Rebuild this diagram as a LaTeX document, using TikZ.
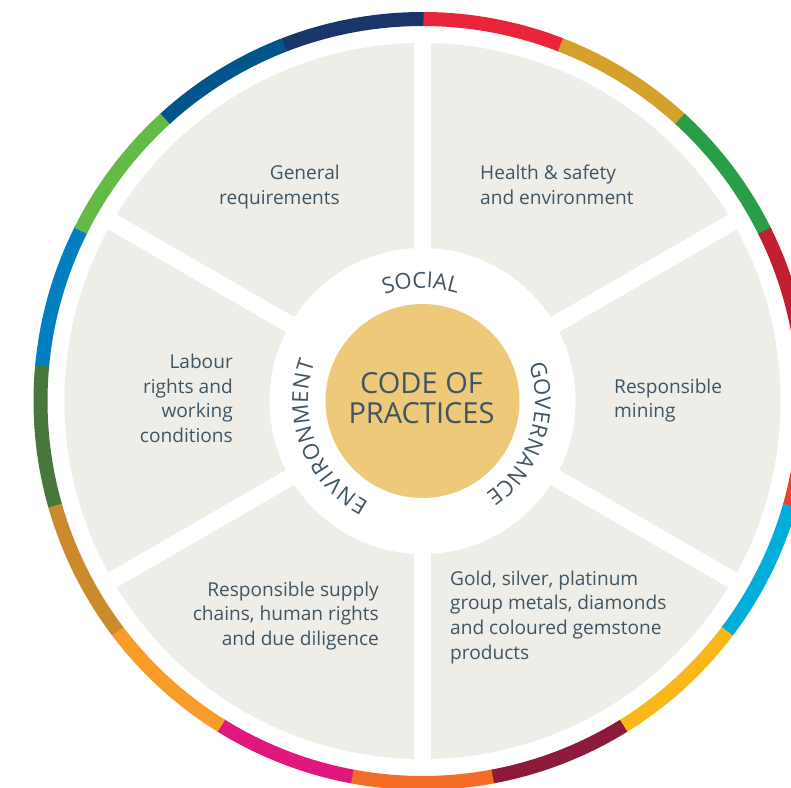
\documentclass[tikz,border=0pt]{standalone}
\usepackage{fontspec}
\setmainfont{Open Sans}
\newfontfamily\arcff{Open Sans}
\definecolor{txt}{HTML}{405563}
\definecolor{sect}{HTML}{EEEDE8}
\definecolor{core}{HTML}{EDC979}
\definecolor{g1}{HTML}{E9253B}
\definecolor{g2}{HTML}{D4A12C}
\definecolor{g3}{HTML}{2A9D49}
\definecolor{g4}{HTML}{C21E32}
\definecolor{g5}{HTML}{EF402B}
\definecolor{g6}{HTML}{00AED9}
\definecolor{g7}{HTML}{FAB719}
\definecolor{g8}{HTML}{8E1A3B}
\definecolor{g9}{HTML}{F26C25}
\definecolor{g10}{HTML}{E0187C}
\definecolor{g11}{HTML}{F89B28}
\definecolor{g12}{HTML}{CB8B2D}
\definecolor{g13}{HTML}{48773D}
\definecolor{g14}{HTML}{0080C1}
\definecolor{g15}{HTML}{63BB46}
\definecolor{g16}{HTML}{01558A}
\definecolor{g17}{HTML}{1A3569}
\newcommand\arcfont{\arcff\fontsize{22}{22}\selectfont}
% measure letter widths in the preamble
\newcommand\measureletter[1]{%
  \setbox0=\hbox{\arcfont #1}%
  \expandafter\xdef\csname lwid#1\endcsname{\the\wd0}}
\measureletter{S}\measureletter{O}\measureletter{C}\measureletter{I}
\measureletter{A}\measureletter{L}\measureletter{G}\measureletter{V}
\measureletter{E}\measureletter{R}\measureletter{N}\measureletter{M}
\measureletter{T}
\newdimen\arcw
\newcount\arcn
% #1 name, #2 start edge angle, #3 end edge angle, #4 baseline radius, #5 letter-centre radius, #6 letters
\newcommand\placearc[6]{%
  \global\arcw=0pt
  \global\arcn=0
  \foreach \ch in {#6}{%
    \global\advance\arcw by \csname lwid\ch\endcsname\relax
    \global\advance\arcn by 1\relax
  }%
  \edef\totw{\the\arcw}%
  \edef\totn{\the\arcn}%
  \pgfmathsetmacro\trk{((#2-(#3))*pi/180*#5 - \totw)/(\totn-1)}%
  \xdef\cura{#2}%
  \foreach \ch [count=\k] in {#6}{%
    \edef\w{\csname lwid\ch\endcsname}%
    \pgfmathsetmacro\ang{\cura - (\w/2)/#5*180/pi}%
    \node[arcletter, rotate=\ang-90] (#1\k) at (\ang:#4pt) {\ch};
    \pgfmathsetmacro\nx{\cura - (\w + \trk)/#5*180/pi}%
    \xdef\cura{\nx}%
  }%
}
\tikzset{
  arcletter/.style={anchor=base, inner sep=0pt, text=txt, font=\arcfont},
  lbl/.style={inner sep=0pt, text=txt, font=\fontsize{19.1}{24.7}\selectfont},
  ttl/.style={inner sep=0pt, text=txt, font=\fontsize{29}{30}\selectfont, align=center, anchor=base},
  divider/.style={white, line width=17pt}
}
\begin{document}
\begin{tikzpicture}[x=1pt,y=1pt]
\useasboundingbox (-422.5,-386) rectangle (368.5,401);
\fill[white] (-422.5,-386) rectangle (368.5,401);
% SDG ring
\foreach \c [count=\i from 0] in {g1,g2,g3,g4,g5,g6,g7,g8,g9,g10,g11,g12,g13,g14,g15,g16,g17}{
  \pgfmathsetmacro\aa{90-\i*360/17}
  \pgfmathsetmacro\ab{90-(\i+1)*360/17-0.15}
  \fill[\c] (\aa:389pt) arc[start angle=\aa, end angle=\ab, radius=389pt]
     -- (\ab:375pt) arc[start angle=\ab, end angle=\aa, radius=375pt] -- cycle;
}
% sectors
\fill[sect] (0,0) circle[radius=358pt];
\foreach \a in {90,30,-30,-90,-150,150}{
  \draw[divider] (0,0) -- (\a:366pt);
}
\fill[white] (0,0) circle[radius=153pt];
\node[circle, fill=core, minimum size=194pt, inner sep=0pt] (core) at (0,0) {};
\node[ttl] (title) at (-1,-22) {CODE OF\\PRACTICES};
% arc words
\placearc{soc}{109.3}{72.4}{113.1}{121}{S,O,C,I,A,L}
\placearc{gov}{18.8}{-55.7}{112.6}{120.5}{G,O,V,E,R,N,A,N,C,E}
\placearc{env}{241.9}{160.1}{114.6}{122.5}{E,N,V,I,R,O,N,M,E,N,T}
% labels (anchor at baseline of last line)
\node[lbl, align=right, anchor=base east] (gen) at (-82.5,196.3) {General\\requirements};
\node[lbl, align=left, anchor=base west] (hse) at (57.5,196.3) {Health \& safety\\and environment};
\node[lbl, align=left, anchor=base west] (mining) at (191.5,-16.7) {Responsible\\mining};
\node[lbl, align=right, anchor=base east] (labour) at (-189.5,-41.6) {Labour\\rights and\\working\\conditions};
\node[lbl, align=right, anchor=base east] (supply) at (-43.5,-244.4) {Responsible supply\\chains, human rights\\and due diligence};
\node[lbl, align=left, anchor=base west] (goldp) at (27.5,-258.1) {Gold, silver, platinum\\group metals, diamonds\\and coloured gemstone\\products};
\end{tikzpicture}
\end{document}
